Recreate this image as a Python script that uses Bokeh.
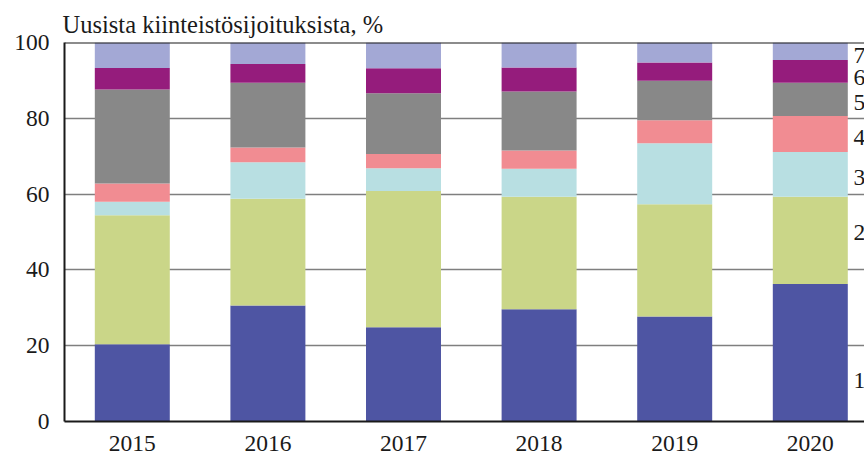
from bokeh.plotting import figure
from bokeh.models import ColumnDataSource, FixedTicker, Span
from bokeh.core.properties import value
from bokeh.embed import file_html
from bokeh.resources import INLINE

years = ["2015", "2016", "2017", "2018", "2019", "2020"]
s1 = [20.4, 30.6, 24.9, 29.6, 27.7, 36.3]
s2 = [34.0, 28.2, 35.9, 29.7, 29.6, 23.0]
s3 = [3.6, 9.6, 6.0, 7.4, 16.1, 11.8]
s4 = [4.8, 3.9, 3.8, 4.8, 6.1, 9.5]
s5 = [24.8, 17.1, 16.0, 15.6, 10.4, 8.8]
s6 = [5.7, 4.9, 6.6, 6.3, 4.8, 6.0]
s7 = [6.7, 5.7, 6.8, 6.6, 5.3, 4.6]
series_names = ["1", "2", "3", "4", "5", "6", "7"]
label_y = [10.8, 50.0, 64.5, 75.0, 84.2, 90.8, 96.6]
colors = ["#4e55a3", "#cad688", "#b8dfe2", "#f18c92", "#888888", "#951c7c", "#a3a8d5"]
y_ticks = [0, 20, 40, 60, 80, 100]
title_text = "Uusista kiinteistösijoituksista, %"

FONT = "Liberation Serif"
FS = "23.5px"
TXT = "#1a1a1a"

UNIT = 135.6
FRAME_W = 800
xpos = [i + 0.5 for i in range(len(years))]
src = ColumnDataSource(dict(x=xpos, s1=s1, s2=s2, s3=s3, s4=s4, s5=s5, s6=s6, s7=s7))

x_end = FRAME_W / UNIT

p = figure(output_backend="svg", toolbar_location=None,
           frame_width=FRAME_W, frame_height=379,
           x_range=(0, x_end), y_range=(0, 100),
           min_border_left=64, min_border_right=0,
           min_border_top=42, min_border_bottom=35)
p.outline_line_color = None
p.background_fill_color = "white"

p.vbar_stack(["s1", "s2", "s3", "s4", "s5", "s6", "s7"], x="x", width=0.553,
             color=colors, line_color=None, source=src)

# top border line at 100
p.add_layout(Span(location=100, dimension="width", line_color="#1a1a1a", line_width=2))

# right labels
lab_src = ColumnDataSource(dict(x=[(853 - 64) / UNIT] * len(series_names),
                                y=label_y, t=series_names))
p.text(x="x", y="y", text="t", source=lab_src, text_font=value(FONT),
       text_font_size=value(FS), text_color=TXT,
       text_align="left", text_baseline="middle")

p.title.text = title_text
p.title.align = "left"
p.title.text_font = FONT
p.title.text_font_size = "24.5px"
p.title.text_font_style = "normal"
p.title.text_color = TXT
p.title.offset = -2
p.title.standoff = 9

p.yaxis.ticker = FixedTicker(ticks=y_ticks)
p.yaxis.major_tick_out = 0
p.yaxis.major_tick_in = 0
p.yaxis.minor_tick_out = 0
p.yaxis.minor_tick_in = 0
p.yaxis.major_label_standoff = 15
p.yaxis.axis_line_color = "#1a1a1a"
p.yaxis.axis_line_width = 2
p.yaxis.major_label_text_font = FONT
p.yaxis.major_label_text_font_size = FS
p.yaxis.major_label_text_color = TXT

p.xaxis.ticker = FixedTicker(ticks=xpos)
p.xaxis.major_label_overrides = {x: y for x, y in zip(xpos, years)}
p.xaxis.major_tick_out = 0
p.xaxis.major_tick_in = 0
p.xaxis.minor_tick_out = 0
p.xaxis.minor_tick_in = 0
p.xaxis.major_label_standoff = 14
p.xaxis.axis_line_color = "#1a1a1a"
p.xaxis.axis_line_width = 2
p.xaxis.major_label_text_font = FONT
p.xaxis.major_label_text_font_size = FS
p.xaxis.major_label_text_color = TXT

p.xgrid.grid_line_color = None
p.ygrid.ticker = FixedTicker(ticks=[20, 40, 60, 80])
p.ygrid.grid_line_color = "#7f7f7f"
p.ygrid.grid_line_width = 1.5

open("out.html", "w").write(file_html(p, INLINE))
